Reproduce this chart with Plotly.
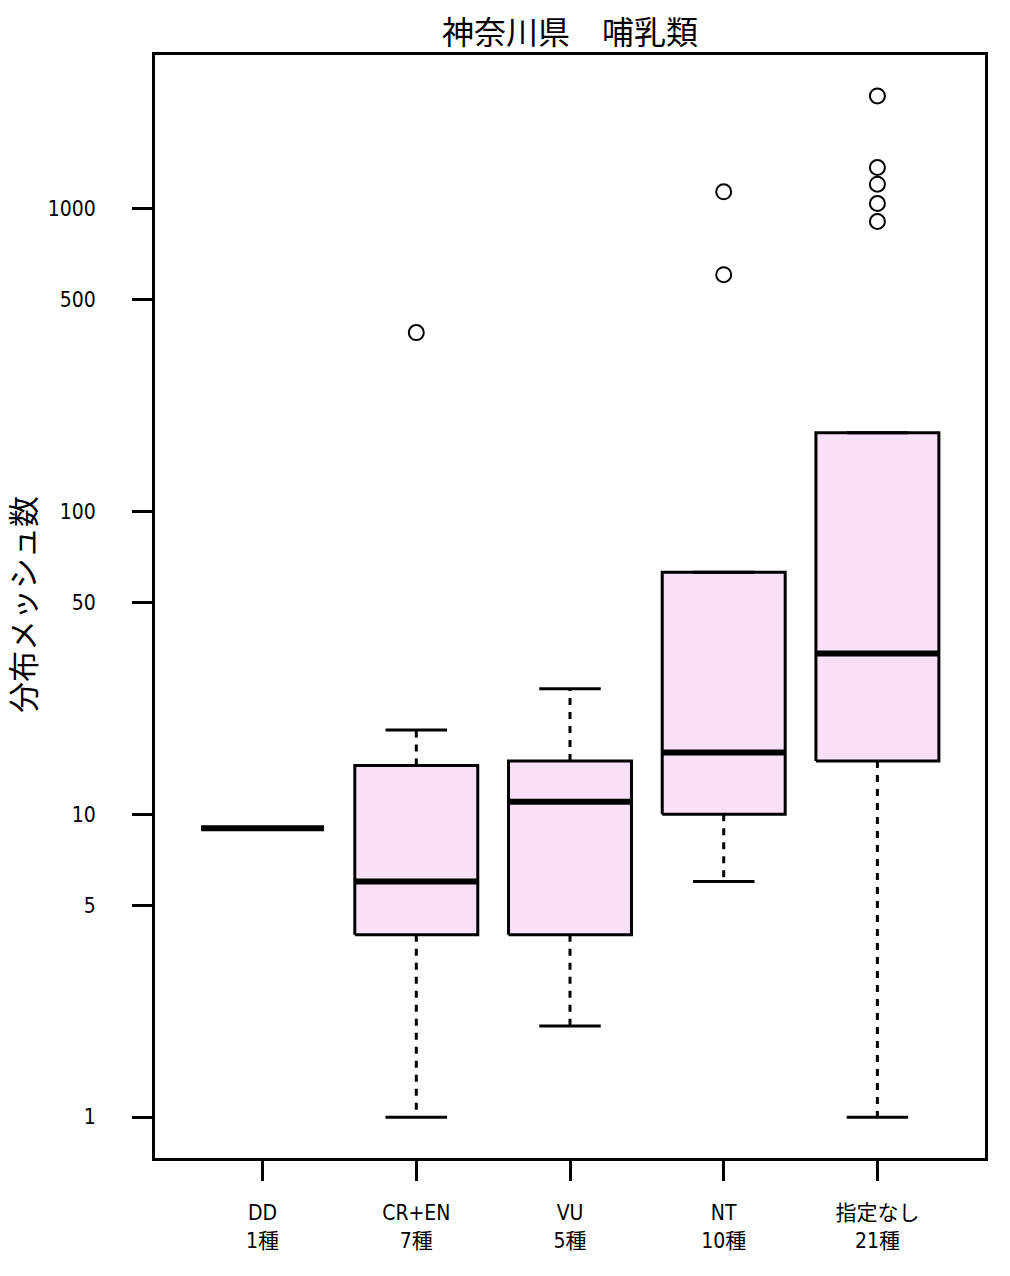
import plotly.graph_objects as go

categories = ["DD", "CR+EN", "VU", "NT", "指定なし"]
species_counts = [1, 7, 5, 10, 21]
lower_whisker = [9, 1, 2, 6, 1]
q1 = [9, 4, 4, 10, 15]
median = [9, 6, 11, 16, 34]
q3 = [9, 14.5, 15, 63, 182]
upper_whisker = [9, 19, 26, 63, 182]
outliers = {
    "CR+EN": [390],
    "NT": [606, 1138],
    "指定なし": [2360, 1369, 1206, 1041, 908],
}
y_tick_vals = [1, 5, 10, 50, 100, 500, 1000]

FILL = "#F8E0F8"
tick_font = dict(family="DejaVu Sans Condensed, Noto Sans CJK JP", size=21, color="black")

fig = go.Figure()
half_box = 0.4
half_cap = 0.2
for i, cat in enumerate(categories):
    c = i + 1
    # box
    fig.add_trace(go.Scatter(
        x=[c - half_box, c + half_box, c + half_box, c - half_box, c - half_box],
        y=[q1[i], q1[i], q3[i], q3[i], q1[i]],
        mode="lines", fill="toself", fillcolor=FILL,
        line=dict(color="black", width=3), hoverinfo="skip", showlegend=False))
    # whiskers (dashed)
    fig.add_trace(go.Scatter(
        x=[c, c, None, c, c],
        y=[q3[i], upper_whisker[i], None, q1[i], lower_whisker[i]],
        mode="lines", line=dict(color="black", width=3, dash="7px,7px"),
        hoverinfo="skip", showlegend=False))
    # caps
    fig.add_trace(go.Scatter(
        x=[c - half_cap, c + half_cap, None, c - half_cap, c + half_cap],
        y=[upper_whisker[i], upper_whisker[i], None, lower_whisker[i], lower_whisker[i]],
        mode="lines", line=dict(color="black", width=3),
        hoverinfo="skip", showlegend=False))
    # median
    fig.add_trace(go.Scatter(
        x=[c - half_box, c + half_box], y=[median[i], median[i]],
        mode="lines", line=dict(color="black", width=6),
        hoverinfo="skip", showlegend=False))
    # outliers
    if cat in outliers:
        fig.add_trace(go.Scatter(
            x=[c] * len(outliers[cat]), y=outliers[cat], mode="markers",
            marker=dict(symbol="circle-open", size=15, color="black", line=dict(width=2, color="black")),
            hoverinfo="skip", showlegend=False))

fig.update_layout(
    width=1010, height=1276,
    margin=dict(l=155, r=25, t=55, b=118),
    plot_bgcolor="white", paper_bgcolor="white",
    title=dict(text="神奈川県　哺乳類", x=0.5, xref="paper", xanchor="center",
               y=1 - 33 / 1276, yref="container", yanchor="middle",
               font=dict(family="Noto Sans CJK JP", size=32, color="black")),
    xaxis=dict(range=[0.3, 5.7], tickvals=list(range(1, len(categories) + 1)),
               ticktext=[f"{c}<br>{n}種" for c, n in zip(categories, species_counts)],
               ticks="outside", ticklen=20, tickwidth=3, tickcolor="black",
               showline=True, linewidth=3, linecolor="black", mirror=True,
               showgrid=False, zeroline=False, tickfont=tick_font,
               ticklabelstandoff=14),
    yaxis=dict(type="log", range=[-0.135, 3.508], tickvals=y_tick_vals,
               ticktext=[str(v) for v in y_tick_vals],
               ticks="outside", ticklen=20, tickwidth=3, tickcolor="black",
               showline=True, linewidth=3, linecolor="black", mirror=True,
               showgrid=False, zeroline=False, tickfont=tick_font,
               ticklabelstandoff=32),
    annotations=[dict(text="分布メッシュ数", textangle=-90, xref="paper", yref="paper",
                      x=(21 - 155) / 830, y=1 - (605 - 55) / 1103,
                      xanchor="center", yanchor="middle", showarrow=False,
                      font=dict(family="Noto Sans CJK JP", size=31, color="black"))],
)

fig.write_html("out.html")
